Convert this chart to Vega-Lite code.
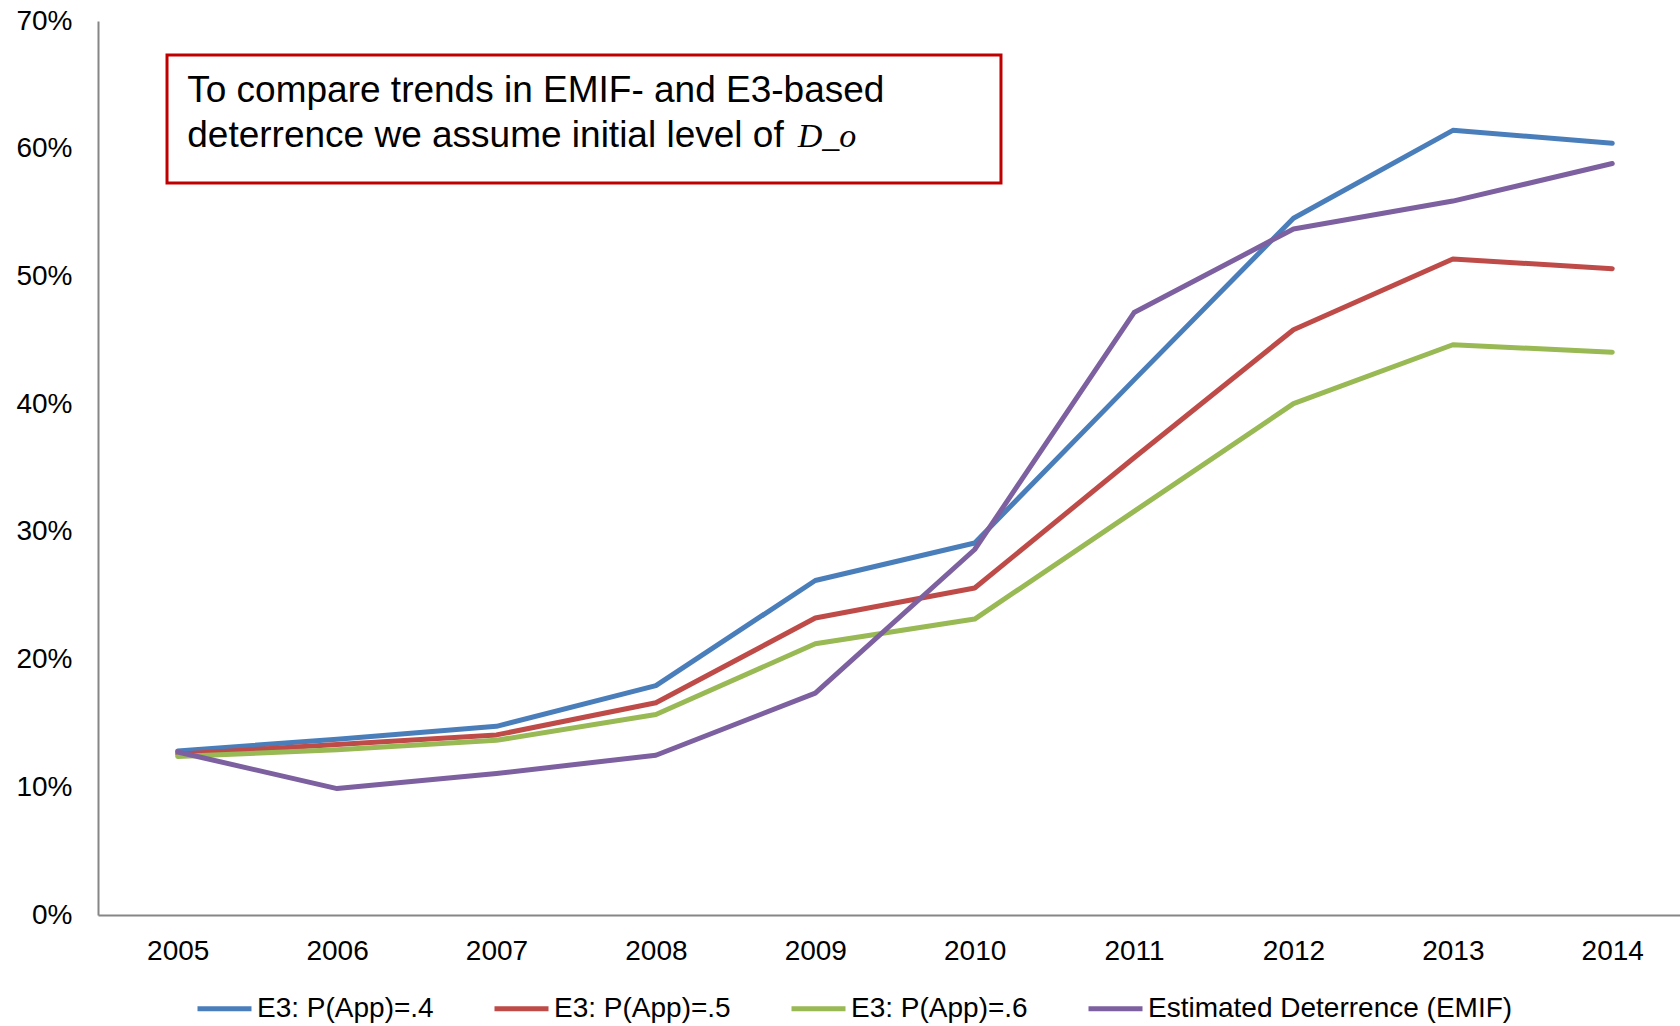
{
  "$schema": "https://vega.github.io/schema/vega-lite/v6.json",
  "width": 1582,
  "height": 894,
  "autosize": {"type": "none"},
  "padding": {"left": 98, "top": 21, "right": 0, "bottom": 111},
  "background": "white",
  "config": {
    "view": {"stroke": null},
    "font": "Liberation Sans",
    "axis": {"labelFont": "Liberation Sans", "labelColor": "#000000", "grid": false, "ticks": false, "domainColor": "#868686", "domainWidth": 2, "labelFontSize": 28, "title": null}
  },
  "datasets": {
    "series": [
      {"year": 2005, "series": "E3: P(App)=.4", "value": 0.1284},
      {"year": 2006, "series": "E3: P(App)=.4", "value": 0.1377},
      {"year": 2007, "series": "E3: P(App)=.4", "value": 0.1477},
      {"year": 2008, "series": "E3: P(App)=.4", "value": 0.1796},
      {"year": 2009, "series": "E3: P(App)=.4", "value": 0.2619},
      {"year": 2010, "series": "E3: P(App)=.4", "value": 0.2913},
      {"year": 2011, "series": "E3: P(App)=.4", "value": 0.4190},
      {"year": 2012, "series": "E3: P(App)=.4", "value": 0.5456},
      {"year": 2013, "series": "E3: P(App)=.4", "value": 0.6144},
      {"year": 2014, "series": "E3: P(App)=.4", "value": 0.6043},
      {"year": 2005, "series": "E3: P(App)=.5", "value": 0.1259},
      {"year": 2006, "series": "E3: P(App)=.5", "value": 0.1335},
      {"year": 2007, "series": "E3: P(App)=.5", "value": 0.1410},
      {"year": 2008, "series": "E3: P(App)=.5", "value": 0.1662},
      {"year": 2009, "series": "E3: P(App)=.5", "value": 0.2325},
      {"year": 2010, "series": "E3: P(App)=.5", "value": 0.2560},
      {"year": 2011, "series": "E3: P(App)=.5", "value": 0.3580},
      {"year": 2012, "series": "E3: P(App)=.5", "value": 0.4583},
      {"year": 2013, "series": "E3: P(App)=.5", "value": 0.5137},
      {"year": 2014, "series": "E3: P(App)=.5", "value": 0.5061},
      {"year": 2005, "series": "E3: P(App)=.6", "value": 0.1242},
      {"year": 2006, "series": "E3: P(App)=.6", "value": 0.1293},
      {"year": 2007, "series": "E3: P(App)=.6", "value": 0.1368},
      {"year": 2008, "series": "E3: P(App)=.6", "value": 0.1570},
      {"year": 2009, "series": "E3: P(App)=.6", "value": 0.2124},
      {"year": 2010, "series": "E3: P(App)=.6", "value": 0.2317},
      {"year": 2011, "series": "E3: P(App)=.6", "value": 0.3160},
      {"year": 2012, "series": "E3: P(App)=.6", "value": 0.4004},
      {"year": 2013, "series": "E3: P(App)=.6", "value": 0.4465},
      {"year": 2014, "series": "E3: P(App)=.6", "value": 0.4407},
      {"year": 2005, "series": "Estimated Deterrence (EMIF)", "value": 0.1276},
      {"year": 2006, "series": "Estimated Deterrence (EMIF)", "value": 0.0990},
      {"year": 2007, "series": "Estimated Deterrence (EMIF)", "value": 0.1108},
      {"year": 2008, "series": "Estimated Deterrence (EMIF)", "value": 0.1251},
      {"year": 2009, "series": "Estimated Deterrence (EMIF)", "value": 0.1737},
      {"year": 2010, "series": "Estimated Deterrence (EMIF)", "value": 0.2862},
      {"year": 2011, "series": "Estimated Deterrence (EMIF)", "value": 0.4717},
      {"year": 2012, "series": "Estimated Deterrence (EMIF)", "value": 0.5372},
      {"year": 2013, "series": "Estimated Deterrence (EMIF)", "value": 0.5590},
      {"year": 2014, "series": "Estimated Deterrence (EMIF)", "value": 0.5884}
    ],
    "note": [
      {"line1": "To compare trends in EMIF- and E3-based", "line2": "deterrence we assume initial level of ", "symbol": "D_o"}
    ]
  },
  "layer": [
    {
      "data": {"name": "series"},
      "mark": {"type": "line", "strokeWidth": 5, "strokeJoin": "round", "strokeCap": "round"},
      "encoding": {
        "x": {
          "field": "year", "type": "quantitative",
          "scale": {"domain": [2004.5, 2014.425], "nice": false, "zero": false},
          "axis": {"values": [2005, 2006, 2007, 2008, 2009, 2010, 2011, 2012, 2013, 2014], "format": "d", "labelPadding": 22, "labelFlush": false}
        },
        "y": {
          "field": "value", "type": "quantitative",
          "scale": {"domain": [0, 0.7], "nice": false},
          "axis": {"values": [0, 0.1, 0.2, 0.3, 0.4, 0.5, 0.6, 0.7], "format": ".0%", "labelPadding": 26}
        },
        "color": {
          "field": "series", "type": "nominal",
          "scale": {
            "domain": ["E3: P(App)=.4", "E3: P(App)=.5", "E3: P(App)=.6", "Estimated Deterrence (EMIF)"],
            "range": ["#4A7EBB", "#BE4B48", "#98B954", "#7D60A0"]
          },
          "legend": {
            "title": null,
            "orient": "none",
            "direction": "horizontal",
            "columns": 4,
            "legendX": 97,
            "legendY": 958,
            "padding": 0,
            "symbolType": "stroke",
            "symbolSize": 2916,
            "symbolStrokeWidth": 5,
            "labelFontSize": 28,
            "labelFont": "Liberation Sans",
            "labelColor": "#000000",
            "labelOffset": 3,
            "labelLimit": 0,
            "columnPadding": 50
          }
        }
      }
    },
    {
      "data": {"name": "note"},
      "mark": {"type": "rect", "fill": "white", "stroke": "#C00000", "strokeWidth": 3},
      "encoding": {
        "x": {"datum": 2004.933, "type": "quantitative"},
        "x2": {"datum": 2010.165},
        "y": {"datum": 0.6734, "type": "quantitative"},
        "y2": {"datum": 0.5732}
      }
    },
    {
      "data": {"name": "note"},
      "mark": {"type": "text", "align": "left", "baseline": "alphabetic", "fontSize": 37, "font": "Liberation Sans", "color": "#000000"},
      "encoding": {
        "x": {"datum": 2005.06, "type": "quantitative"},
        "y": {"datum": 0.6366, "type": "quantitative"},
        "text": {"field": "line1"}
      }
    },
    {
      "data": {"name": "note"},
      "mark": {"type": "text", "align": "left", "baseline": "alphabetic", "fontSize": 37, "font": "Liberation Sans", "color": "#000000"},
      "encoding": {
        "x": {"datum": 2005.06, "type": "quantitative"},
        "y": {"datum": 0.6014, "type": "quantitative"},
        "text": {"field": "line2"}
      }
    },
    {
      "data": {"name": "note"},
      "mark": {"type": "text", "align": "left", "baseline": "alphabetic", "fontSize": 34, "font": "Liberation Serif", "fontStyle": "italic", "color": "#000000"},
      "encoding": {
        "x": {"datum": 2008.89, "type": "quantitative"},
        "y": {"datum": 0.6014, "type": "quantitative"},
        "text": {"field": "symbol"}
      }
    }
  ]
}
